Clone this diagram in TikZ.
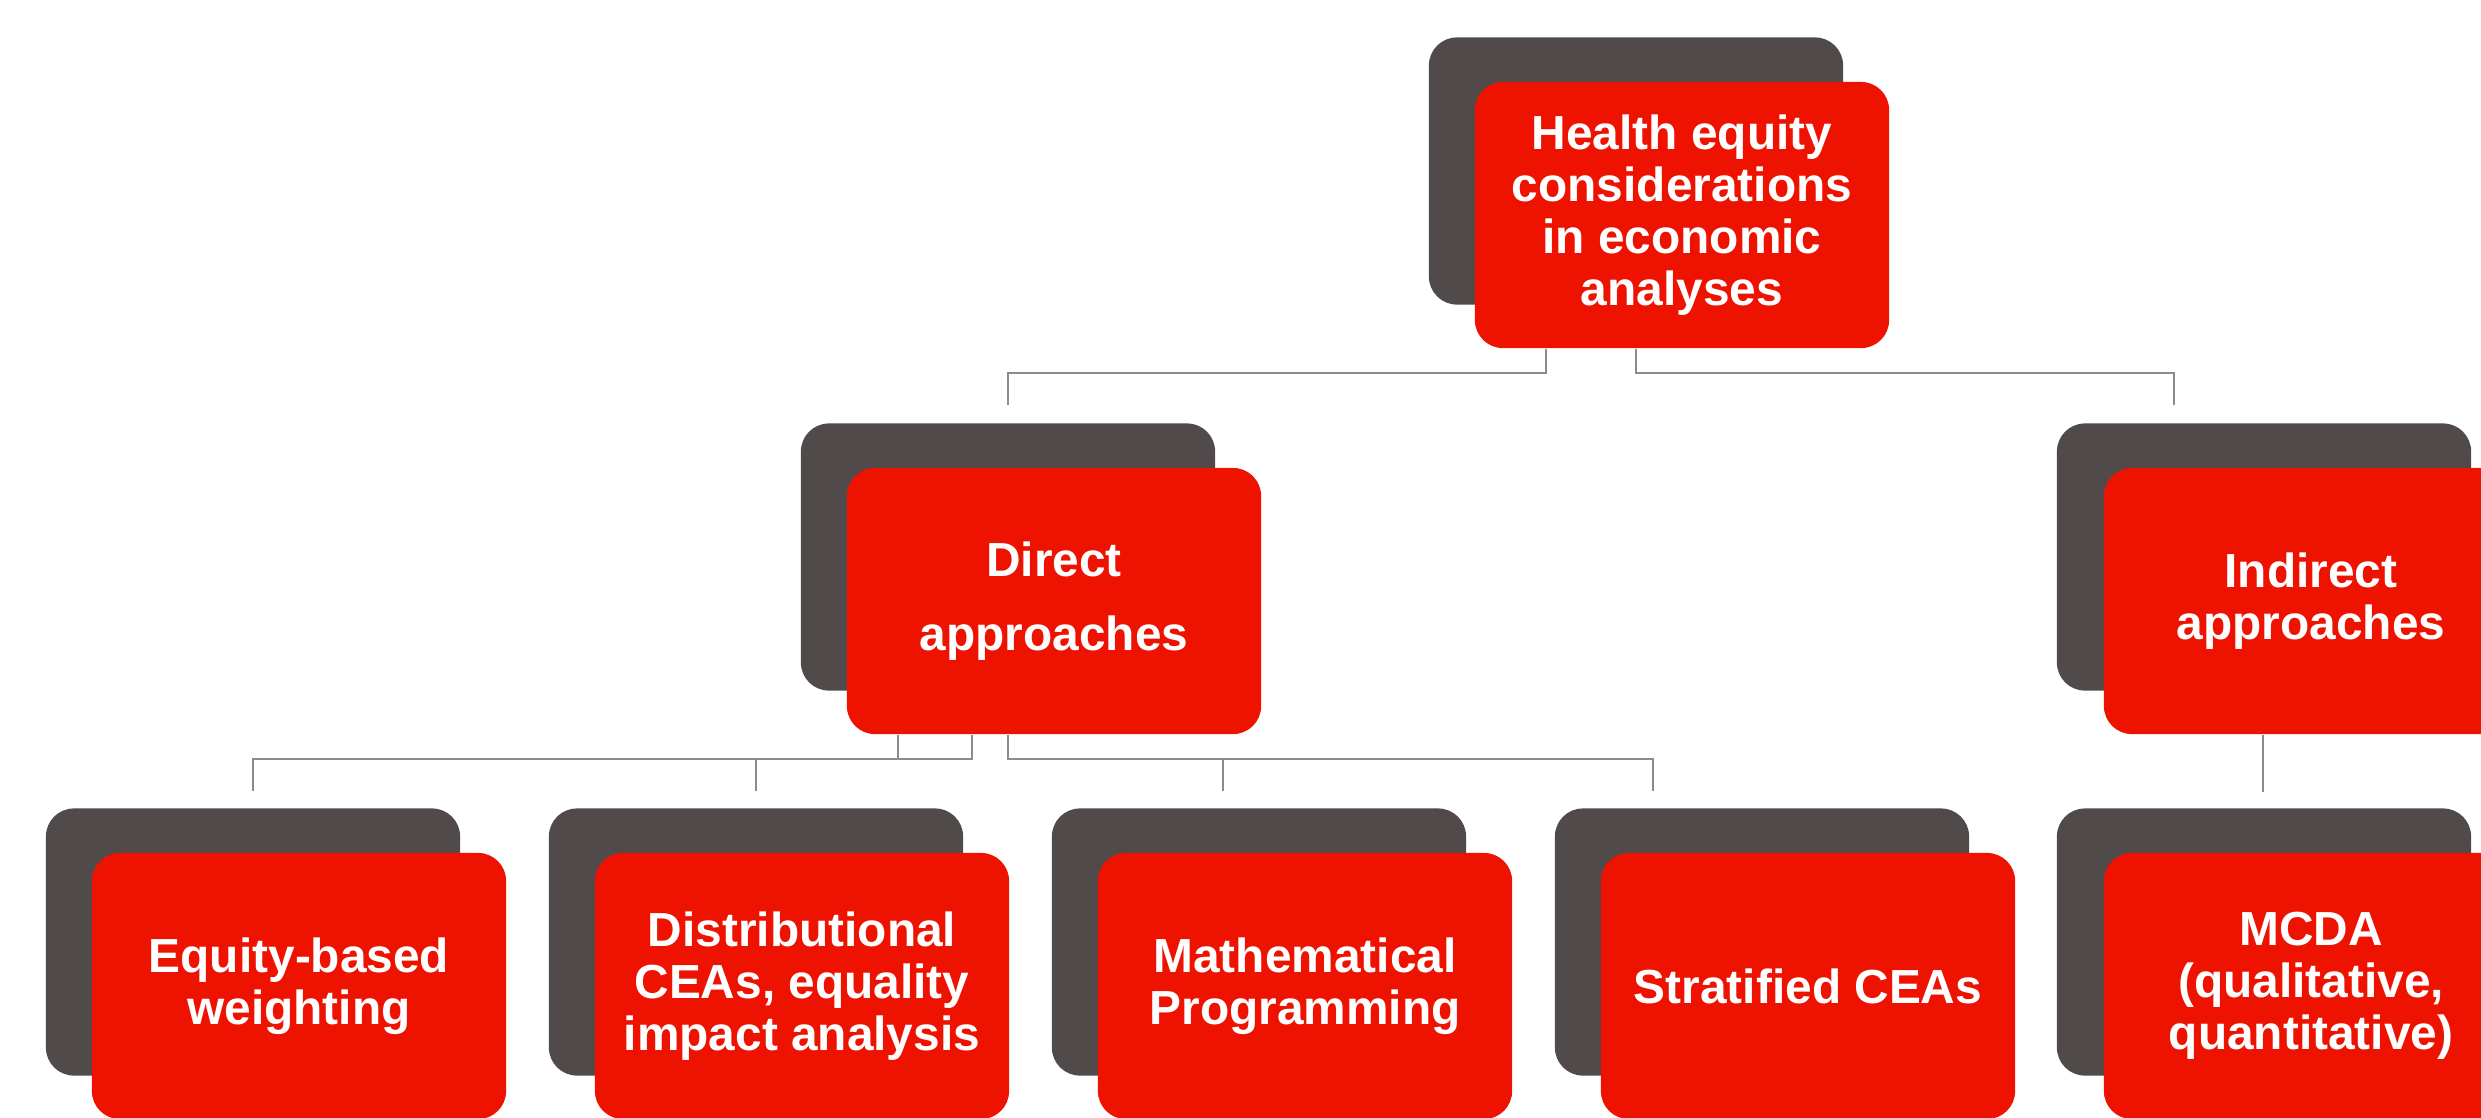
\documentclass[tikz,border=0pt]{standalone}
\usepackage{fontspec}
\setmainfont{Liberation Sans}
\definecolor{hred}{RGB}{238,18,0}
\definecolor{hgrey}{RGB}{80,75,74}
\definecolor{lgrey}{RGB}{140,140,140}
\tikzset{
  redbox/.style={fill=hred, draw=none, rounded corners=0.28cm, minimum width=4.14cm, minimum height=2.66cm,
    text=white, font=\bfseries\fontsize{13.6}{14.8}\selectfont, align=center, inner sep=0pt},
  greybox/.style={fill=hgrey, draw=none, rounded corners=0.28cm, minimum width=4.14cm, minimum height=2.67cm, inner sep=0pt},
  conn/.style={draw=lgrey, line width=0.022cm}
}
\begin{document}
\begin{tikzpicture}[x=0.01cm,y=-0.01cm]
\useasboundingbox (0,0) rectangle (2481,1117);
\clip (0,0) rectangle (2481,1117);
% top
\node[greybox] (topg) at (1636,171) {};
\node[redbox] (top) at (1682,215) {Health equity\\considerations\\in economic\\analyses};
% middle
\node[greybox] (dirg) at (1008,557) {};
\node[redbox] (dir) at (1054,601) {Direct\\[6.2pt]approaches};
\node[greybox] (indg) at (2264,557) {};
\node[redbox] (ind) at (2311,601) {Indirect\\approaches};
% bottom
\node[greybox] (b1g) at (253,942) {};
\node[redbox] (b1) at (299,986) {Equity-based\\weighting};
\node[greybox] (b2g) at (756,942) {};
\node[redbox] (b2) at (802,986) {Distributional\\CEAs, equality\\impact analysis};
\node[greybox] (b3g) at (1259,942) {};
\node[redbox] (b3) at (1305,986) {Mathematical\\Programming};
\node[greybox] (b4g) at (1762,942) {};
\node[redbox] (b4) at (1808,986) {Stratified CEAs};
\node[greybox] (b5g) at (2264,942) {};
\node[redbox] (b5) at (2311,986) {MCDA\\(qualitative,\\quantitative)};
% connector coordinates
\coordinate (t1) at (1546,373);
\coordinate (t2) at (1636,373);
\coordinate (dT) at (1008,405);
\coordinate (iT) at (2174,405);
\coordinate (m1) at (898,759);
\coordinate (m2) at (972,759);
\coordinate (m3) at (1008,759);
\coordinate (e1) at (253,791);
\coordinate (e2) at (756,791);
\coordinate (e3) at (1223,791);
\coordinate (e4) at (1653,791);
\coordinate (e5) at (2263,792);
% top connectors
\draw[conn] (top.south -| t1) -- (t1) -| (dT);
\draw[conn] (top.south -| t2) -- (t2) -| (iT);
% direct connectors
\draw[conn] (dir.south -| m1) -- (m1);
\draw[conn] (dir.south -| m2) -- (m2) -| (e1);
\draw[conn] (e2 |- m2) -- (e2);
\draw[conn] (dir.south -| m3) -- (m3) -| (e4);
\draw[conn] (e3 |- m3) -- (e3);
% indirect connector
\draw[conn] (ind.south -| e5) -- (e5);
\end{tikzpicture}
\end{document}
